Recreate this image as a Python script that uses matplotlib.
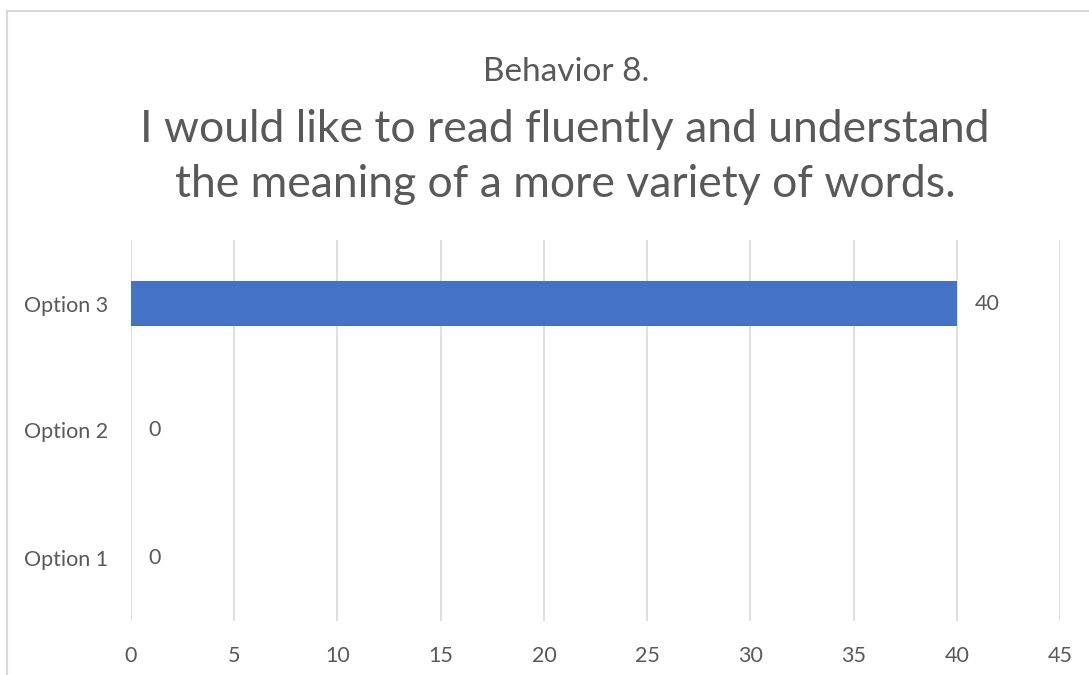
import matplotlib
matplotlib.use("Agg")
import matplotlib.pyplot as plt
from matplotlib.patches import Rectangle

categories = ["Option 1", "Option 2", "Option 3"]
counts = [0, 0, 40]
x_ticks = [0, 5, 10, 15, 20, 25, 30, 35, 40, 45]

subtitle = "Behavior 8."
title = "I would like to read fluently and understand\nthe meaning of a more variety of words."

text_color = "#595959"
grid_color = "#d9d9d9"
bar_color = "#4472c4"

plt.rcParams["font.family"] = ["Lato", "DejaVu Sans"]

fig = plt.figure(figsize=(10.89, 6.75), dpi=100)
ax = fig.add_axes([131 / 1089, 1 - 621 / 675, 929 / 1089, 381 / 675])

# chart frame, running off the right and bottom edges
fig.patches.append(Rectangle((7 / 1089, -0.05), 1.1, 1 - 11 / 675 + 0.05,
                             transform=fig.transFigure, fill=False,
                             edgecolor=grid_color, linewidth=1.5))

y = list(range(len(categories)))
ax.barh(y, counts, height=0.36, color=bar_color, zorder=3)
for yi, v in zip(y, counts):
    ax.text(v + 0.85, yi, str(v), va="center", ha="left",
            fontsize=15.5, color=text_color)

ax.set_xlim(0, 45)
ax.set_ylim(-0.5, 2.5)
ax.set_xticks(x_ticks)
ax.set_yticks(y)
ax.set_yticklabels(categories)
ax.tick_params(axis="both", length=0, labelsize=15.5, labelcolor=text_color)
ax.tick_params(axis="x", pad=18)
ax.tick_params(axis="y", pad=16.5)
ax.grid(axis="x", color=grid_color, linewidth=1.2, zorder=0)
for s in ax.spines.values():
    s.set_visible(False)

fig.text(566 / 1089, 1 - 72 / 675, subtitle, ha="center", va="center",
         fontsize=24, color=text_color)
fig.text(565 / 1089, 1 - 157 / 675, title, ha="center", va="center",
         fontsize=32, color=text_color, linespacing=1.4)

fig.savefig("out.png", dpi=100, facecolor="white")
